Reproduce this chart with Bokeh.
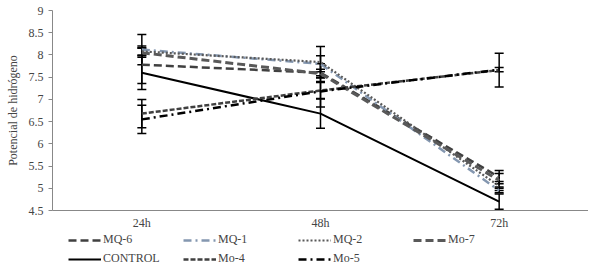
from bokeh.plotting import figure
from bokeh.layouts import column
from bokeh.models import (ColumnDataSource, Whisker, TeeHead, Legend, LegendItem,
                          FactorRange, NumeralTickFormatter, FixedTicker, Range1d)
from bokeh.embed import file_html
from bokeh.resources import INLINE

times = ["24h", "48h", "72h"]
names = ["MQ-6", "MQ-1", "MQ-2", "Mo-7", "CONTROL", "Mo-4", "Mo-5"]
mq6 = [7.78, 7.60, 5.25]
mq1 = [8.12, 7.80, 4.95]
mq2 = [8.08, 7.84, 5.05]
mo7 = [8.05, 7.58, 5.18]
control = [7.60, 6.68, 4.70]
mo4 = [6.68, 7.20, 7.66]
mo5 = [6.55, 7.18, 7.67]
err_mq6 = [0.42, 0.20, 0.15]
err_mq1 = [0.34, 0.18, 0.05]
err_mq2 = [0.08, 0.35, 0.10]
err_mo7 = [0.10, 0.10, 0.15]
err_control = [0.38, 0.33, 0.17]
err_mo4 = [0.32, 0.18, 0.38]
err_mo5 = [0.32, 0.35, 0.05]
y_ticks = [4.5, 5, 5.5, 6, 6.5, 7, 7.5, 8, 8.5, 9]

values = [mq6, mq1, mq2, mo7, control, mo4, mo5]
errors = [err_mq6, err_mq1, err_mq2, err_mo7, err_control, err_mo4, err_mo5]
styles = [
    dict(color="#404040", width=2.5, dash="8 4"),
    dict(color="#8497b0", width=2.5, dash="8 4 2 4"),
    dict(color="#595959", width=2.2, dash="2 2"),
    dict(color="#595959", width=3.0, dash="8 4"),
    dict(color="#000000", width=2.0, dash="solid"),
    dict(color="#404040", width=2.5, dash="5 2"),
    dict(color="#000000", width=2.5, dash="8 4 2 4"),
]

FONT = "Liberation Serif"

p = figure(frame_width=536, frame_height=200, x_range=FactorRange(*times, range_padding=0),
           y_range=(4.5, 9), output_backend="svg", toolbar_location=None,
           min_border_left=52, min_border_right=0, min_border_top=10, min_border_bottom=0)
p.outline_line_color = None
p.xgrid.grid_line_color = None
p.ygrid.grid_line_color = None

# legend strip below the chart
lg = figure(frame_width=588, frame_height=36, x_range=Range1d(0, 1), y_range=Range1d(0, 1),
            output_backend="svg", toolbar_location=None,
            min_border_left=0, min_border_right=0, min_border_top=0, min_border_bottom=0)
lg.axis.visible = False
lg.grid.visible = False
lg.outline_line_color = None

item_map = {}
for name, vals, errs, st in zip(names, values, errors, styles):
    src = ColumnDataSource(dict(x=times, y=vals,
                                up=[v + e for v, e in zip(vals, errs)],
                                lo=[v - e for v, e in zip(vals, errs)]))
    p.line("x", "y", source=src, line_color=st["color"], line_width=st["width"],
           line_dash=st["dash"])
    w = Whisker(base="x", upper="up", lower="lo", source=src, line_color="black",
                line_width=1.5,
                upper_head=TeeHead(size=9, line_color="black", line_width=1.5),
                lower_head=TeeHead(size=9, line_color="black", line_width=1.5))
    p.add_layout(w)
    # off-screen proxy line, only used for the legend sample
    r2 = lg.line(x=[-10, -9], y=[-10, -9], line_color=st["color"], line_width=st["width"],
                 line_dash=st["dash"])
    item_map[name] = LegendItem(label=name, renderers=[r2])

# legend fills column by column: order so that rows read MQ-6 MQ-1 MQ-2 Mo-7 / CONTROL Mo-4 Mo-5
legend_order = ["MQ-6", "CONTROL", "MQ-1", "Mo-4", "MQ-2", "Mo-5", "Mo-7"]
items = [item_map[n] for n in legend_order]

ya = p.yaxis[0]
ya.ticker = FixedTicker(ticks=y_ticks)
ya.formatter = NumeralTickFormatter(format="0.[0]")
ya.axis_label = "Potencial de hidrógeno"
ya.axis_label_text_font = FONT
ya.axis_label_text_font_style = "normal"
ya.axis_label_text_font_size = "12px"
ya.axis_label_standoff = 6
ya.major_label_text_font = FONT
ya.major_label_text_font_size = "12px"
ya.axis_line_color = "#888888"
ya.major_tick_line_color = "#888888"
ya.major_tick_in = 0
ya.major_tick_out = 4
ya.minor_tick_line_color = None

xa = p.xaxis[0]
xa.major_label_text_font = FONT
xa.major_label_text_font_size = "12px"
xa.axis_line_color = "#888888"
xa.major_tick_line_color = None
xa.major_tick_out = 0
xa.major_tick_in = 0
xa.minor_tick_line_color = None
xa.major_label_standoff = 5

legend = Legend(items=items, ncols=4, location=(68, 2),
                label_text_font=FONT, label_text_font_size="12px",
                glyph_width=33, glyph_height=14, label_standoff=2,
                label_width=76, spacing=4, padding=0, margin=0,
                label_height=14, border_line_color=None,
                background_fill_alpha=0)
lg.add_layout(legend, "center")

layout = column(p, lg, spacing=0)
open("out.html", "w").write(file_html(layout, INLINE))
